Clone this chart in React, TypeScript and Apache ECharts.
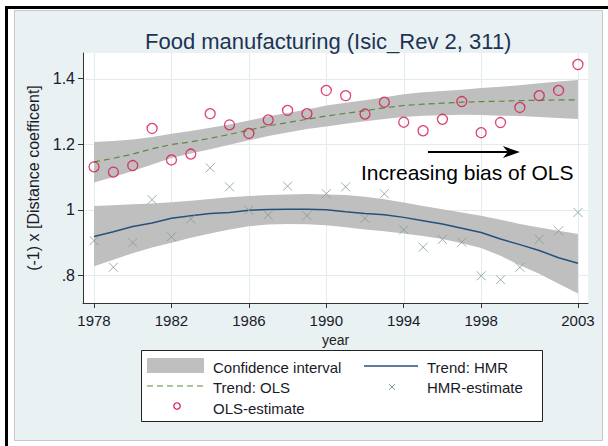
import React, { useEffect, useRef } from "react";
import * as echarts from "echarts";

const years = [1978,1979,1980,1981,1982,1983,1984,1985,1986,1987,1988,1989,1990,1991,1992,1993,1994,1995,1996,1997,1998,1999,2000,2001,2002,2003];
const olsEstimate = [1.131,1.115,1.135,1.248,1.152,1.170,1.293,1.259,1.233,1.274,1.303,1.293,1.364,1.348,1.292,1.328,1.267,1.241,1.276,1.330,1.235,1.266,1.312,1.348,1.364,1.443];
const hmrEstimate = [0.906,0.825,0.900,1.031,0.918,0.972,1.128,1.070,0.999,0.984,1.072,0.982,1.049,1.070,0.974,1.049,0.939,0.886,0.910,0.901,0.799,0.787,0.825,0.910,0.936,0.992];
const olsTrend = [1.146,1.157,1.170,1.186,1.199,1.207,1.218,1.230,1.243,1.256,1.266,1.276,1.286,1.294,1.302,1.311,1.318,1.322,1.325,1.328,1.330,1.331,1.333,1.334,1.335,1.335];
const olsUpper = [1.207,1.210,1.214,1.222,1.232,1.240,1.250,1.260,1.272,1.285,1.295,1.306,1.318,1.326,1.334,1.343,1.352,1.358,1.362,1.366,1.371,1.375,1.380,1.386,1.391,1.396];
const olsLower = [1.083,1.100,1.118,1.138,1.158,1.172,1.185,1.198,1.212,1.225,1.236,1.246,1.254,1.262,1.270,1.277,1.283,1.287,1.288,1.290,1.289,1.287,1.286,1.283,1.280,1.277];
const hmrTrend = [0.919,0.933,0.949,0.960,0.974,0.982,0.989,0.992,0.999,1.001,1.002,1.002,1.000,0.994,0.989,0.985,0.977,0.967,0.957,0.944,0.931,0.911,0.894,0.876,0.854,0.837];
const hmrUpper = [1.012,1.014,1.017,1.019,1.023,1.028,1.033,1.038,1.042,1.045,1.047,1.048,1.047,1.045,1.040,1.032,1.022,1.012,1.002,0.992,0.982,0.970,0.957,0.946,0.936,0.926];
const hmrLower = [0.828,0.848,0.868,0.885,0.900,0.915,0.928,0.940,0.950,0.955,0.957,0.956,0.953,0.947,0.940,0.935,0.928,0.920,0.911,0.898,0.884,0.860,0.831,0.805,0.775,0.745];
const xTicks = [1978,1982,1986,1990,1994,1998,2003];
const yTicks = [0.8,1,1.2,1.4];
const arrowFrom = [1995.25, 1.176];
const arrowTo = [2000.0, 1.176];

const X_MIN = 1977.43, X_MAX = 2003.52, Y_MIN = 0.716, Y_MAX = 1.478;
const BAND = "#bfbfbf";
const RED = "#d3174b";
const CROSS = "#7f9e8f";
const GREEN = "#5b8a3a";
const NAVY = "#26507c";
const GRIDC = "#e2ebee";
const FONT = "Liberation Sans, Arial, sans-serif";

const pairs = (ys: number[]) => years.map((y, i) => [y, ys[i]]);

function bandSeries(upper: number[], lower: number[]) {
  return {
    type: "custom",
    silent: true,
    clip: true,
    data: [[years[0], upper[0]]],
    renderItem: (_p: any, api: any) => {
      const pts: number[][] = [];
      for (let i = 0; i < years.length; i++) pts.push(api.coord([years[i], upper[i]]));
      for (let i = years.length - 1; i >= 0; i--) pts.push(api.coord([years[i], lower[i]]));
      return { type: "polygon", shape: { points: pts }, style: { fill: BAND, stroke: null } };
    },
    z: 1,
  };
}

const gridSeries = {
  type: "custom",
  silent: true,
  clip: true,
  z: 0,
  data: [[xTicks[0], yTicks[0]]],
  renderItem: (_p: any, api: any) => {
    const children: any[] = [];
    xTicks.forEach((v) => {
      const a = api.coord([v, Y_MIN]);
      const b = api.coord([v, Y_MAX]);
      children.push({ type: "line", shape: { x1: Math.round(a[0]) + 0.5, y1: a[1], x2: Math.round(b[0]) + 0.5, y2: b[1] }, style: { stroke: GRIDC, lineWidth: 1 } });
    });
    yTicks.forEach((v) => {
      const a = api.coord([X_MIN, v]);
      const b = api.coord([X_MAX, v]);
      children.push({ type: "line", shape: { x1: a[0], y1: Math.round(a[1]) + 0.5, x2: b[0], y2: Math.round(b[1]) + 0.5 }, style: { stroke: GRIDC, lineWidth: 1 } });
    });
    return { type: "group", children };
  },
};

const arrowSeries = {
  type: "custom",
  silent: true,
  clip: false,
  z: 6,
  data: [[arrowFrom[0], arrowFrom[1]]],
  renderItem: (_p: any, api: any) => {
    const a = api.coord(arrowFrom);
    const b = api.coord(arrowTo);
    return {
      type: "group",
      children: [
        { type: "line", shape: { x1: a[0], y1: a[1], x2: b[0] - 12, y2: b[1] }, style: { stroke: "#000", lineWidth: 2 } },
        { type: "polygon", shape: { points: [[b[0], b[1]], [b[0] - 17, b[1] - 6], [b[0] - 12, b[1]], [b[0] - 17, b[1] + 6]] }, style: { fill: "#000" } },
      ],
    };
  },
};

export default function App() {
  const ref = useRef<HTMLDivElement>(null);
  useEffect(() => {
    const chart = echarts.init(ref.current!, null, { renderer: "svg" });
    const txt = (text: string, x: number, y: number, size = 15, extra: any = {}) => ({
      type: "text", x, y, z: 101,
      style: { text, fill: "#1a1a2a", font: `${size}px ${FONT}`, textVerticalAlign: "middle", verticalAlign: "middle", ...extra },
    });
    chart.setOption({
      animation: false,
      backgroundColor: "#ffffff",
      title: {
        text: "Food manufacturing (Isic_Rev 2, 311)",
        left: 140, top: 25,
        textStyle: { fontFamily: FONT, fontSize: 22, fontWeight: "normal", color: "#1e3455" },
      },
      grid: { left: 83, top: 53, right: 20, bottom: 143, show: true, backgroundColor: "#ffffff", borderWidth: 0 },
      xAxis: {
        type: "value", min: X_MIN, max: X_MAX,
        name: "year", nameLocation: "middle", nameGap: 22,
        nameTextStyle: { fontFamily: FONT, fontSize: 14, color: "#222" },
        axisLine: { show: true, onZero: false, lineStyle: { color: "#333", width: 1 } },
        axisTick: { show: true, length: 5, customValues: xTicks, lineStyle: { color: "#333" } },
        axisLabel: { customValues: xTicks, fontFamily: FONT, fontSize: 15, color: "#1a1a2a", margin: 10, formatter: (v: number) => String(v) },
        splitLine: { show: false },
      },
      yAxis: {
        type: "value", min: Y_MIN, max: Y_MAX,
        name: "(-1) x [Distance coefficent]", nameLocation: "middle", nameGap: 36, nameRotate: 90,
        nameTextStyle: { fontFamily: FONT, fontSize: 16, color: "#1a1a2a" },
        axisLine: { show: true, onZero: false, lineStyle: { color: "#333", width: 1 } },
        axisTick: { show: true, length: 5, customValues: yTicks, lineStyle: { color: "#333" } },
        axisLabel: {
          customValues: yTicks, fontFamily: FONT, fontSize: 16, color: "#1a1a2a", margin: 8,
          formatter: (v: number) => (Math.abs(v - 0.8) < 1e-6 ? ".8" : String(Math.round(v * 10) / 10)),
        },
        splitLine: { show: false },
      },
      graphic: [
        { type: "rect", z: -100, shape: { x: 5, y: 6, width: 603, height: 3 }, style: { fill: "#000" } },
        { type: "rect", z: -100, shape: { x: 5, y: 6, width: 3, height: 440 }, style: { fill: "#000" } },
        { type: "rect", z: -99, shape: { x: 14.5, y: 10.5, width: 588, height: 430 }, style: { fill: "#e9f1f3", stroke: "#c3c9cc", lineWidth: 1 } },
        { type: "rect", z: 100, shape: { x: 141.5, y: 350.5, width: 401, height: 71 }, style: { fill: "#fff", stroke: "#222", lineWidth: 1 } },
        { type: "rect", z: 101, shape: { x: 147, y: 358, width: 57, height: 15 }, style: { fill: BAND } },
        txt("Confidence interval", 213, 367),
        { type: "line", z: 101, shape: { x1: 364, y1: 366, x2: 418, y2: 366 }, style: { stroke: NAVY, lineWidth: 1.5 } },
        txt("Trend: HMR", 427, 367),
        { type: "line", z: 101, shape: { x1: 147, y1: 386, x2: 204, y2: 386 }, style: { stroke: GREEN, lineWidth: 1.2, lineDash: [6, 4] } },
        txt("Trend: OLS", 213, 387),
        { type: "line", z: 101, shape: { x1: 389, y1: 384, x2: 395, y2: 390 }, style: { stroke: CROSS, lineWidth: 1 } },
        { type: "line", z: 101, shape: { x1: 395, y1: 384, x2: 389, y2: 390 }, style: { stroke: CROSS, lineWidth: 1 } },
        txt("HMR-estimate", 427, 387),
        { type: "circle", z: 101, shape: { cx: 177, cy: 406, r: 3.2 }, style: { fill: "none", stroke: RED, lineWidth: 1.2 } },
        txt("OLS-estimate", 213, 408),
        txt("Increasing bias of OLS", 361, 172, 21, { fill: "#000" }),
      ],
      series: [
        gridSeries,
        bandSeries(olsUpper, olsLower),
        bandSeries(hmrUpper, hmrLower),
        {
          name: "Trend: OLS", type: "line", data: pairs(olsTrend), showSymbol: false, symbol: "none", z: 3,
          lineStyle: { color: GREEN, width: 1.2, type: [6, 4] },
        },
        {
          name: "Trend: HMR", type: "line", data: pairs(hmrTrend), showSymbol: false, symbol: "none", z: 3,
          lineStyle: { color: NAVY, width: 1.5 },
        },
        {
          name: "HMR-estimate", type: "scatter", data: pairs(hmrEstimate), z: 4,
          symbol: "path://M0,0L10,10M10,0L0,10", symbolSize: 9,
          itemStyle: { color: "none", borderColor: CROSS, borderWidth: 1 },
        },
        {
          name: "OLS-estimate", type: "scatter", data: pairs(olsEstimate), z: 5,
          symbol: "circle", symbolSize: 10,
          itemStyle: { color: "rgba(0,0,0,0)", borderColor: RED, borderWidth: 1.3 },
        },
        arrowSeries,
      ],
    });
    return () => chart.dispose();
  }, []);
  return <div ref={ref} style={{ position: "fixed", left: 0, top: 0, width: 608, height: 446 }} />;
}
